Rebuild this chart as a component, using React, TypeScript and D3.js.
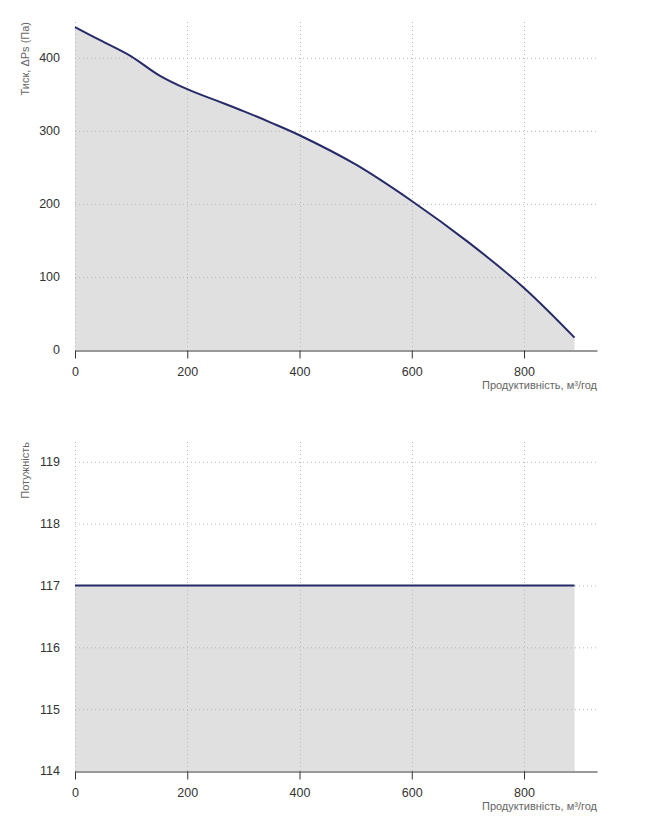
import { useEffect, useRef } from 'react';
import * as d3 from 'd3';

// Pressure curve (m³/год -> Па)
const flowPoints = [0, 50, 100, 150, 200, 250, 300, 350, 400, 500, 600, 700, 800, 890];
const pressureValues = [442, 422, 402, 376, 357, 342, 327, 311, 294, 254, 204, 148, 85, 17];

// Power curve
const powerFlow = [0, 890];
const powerValues = [117, 117];

const xTicks = [0, 200, 400, 600, 800];
const pressureTicks = [0, 100, 200, 300, 400];
const powerTicks = [114, 115, 116, 117, 118, 119];

const xTitle = 'Продуктивність, м³/год';
const pressureTitle = 'Тиск, ΔPs (Па)';
const powerTitle = 'Потужність';

const LINE = '#272a69';
const FILL = '#e0e0e0';
const FONT = 'Arial, "Liberation Sans", sans-serif';

interface PanelOpts {
  top: number;
  bottom: number;
  xs: number[];
  ys: number[];
  yDomain: [number, number];
  yTicks: number[];
  yTitle: string;
}

function drawPanel(root: d3.Selection<SVGSVGElement, unknown, null, undefined>, o: PanelOpts) {
  const left = 75;
  const right = 597;
  const x = d3.scaleLinear().domain([0, 930]).range([left, right]);
  const y = d3.scaleLinear().domain(o.yDomain).range([o.bottom, o.top]);
  const data = o.xs.map((v, i) => ({ x: v, y: o.ys[i] }));
  const curve = d3.curveCatmullRom.alpha(0.5);

  const g = root.append('g');

  // area
  const area = d3
    .area<{ x: number; y: number }>()
    .x(d => x(d.x))
    .y0(o.bottom)
    .y1(d => y(d.y))
    .curve(curve);
  g.append('path').datum(data).attr('d', area).attr('fill', FILL);

  // grid
  g.selectAll('.hgrid')
    .data(o.yTicks.filter(t => t !== o.yDomain[0]))
    .enter()
    .append('line')
    .attr('x1', left)
    .attr('x2', right)
    .attr('y1', d => y(d) + 0.5)
    .attr('y2', d => y(d) + 0.5)
    .attr('stroke', '#b8b8b8')
    .attr('stroke-dasharray', '1,3');
  g.selectAll('.vgrid')
    .data(xTicks)
    .enter()
    .append('line')
    .attr('x1', d => Math.round(x(d)) + 0.5)
    .attr('x2', d => Math.round(x(d)) + 0.5)
    .attr('y1', o.top)
    .attr('y2', o.bottom)
    .attr('stroke', '#b8b8b8')
    .attr('stroke-dasharray', '1,3');

  // line
  const line = d3
    .line<{ x: number; y: number }>()
    .x(d => x(d.x))
    .y(d => y(d.y))
    .curve(curve);
  g.append('path')
    .datum(data)
    .attr('d', line)
    .attr('fill', 'none')
    .attr('stroke', LINE)
    .attr('stroke-width', 2);

  // x axis
  const xAxis = g
    .append('g')
    .attr('transform', `translate(0,${o.bottom + 0.5})`)
    .call(d3.axisBottom(x).tickValues(xTicks).tickSize(8).tickSizeOuter(0).tickPadding(9));
  xAxis.select('.domain').attr('stroke', '#333');
  xAxis.selectAll('.tick line').attr('stroke', '#333');
  xAxis.selectAll('text').attr('fill', '#333').style('font-size', '12.5px').style('font-family', FONT);

  // y labels
  g.selectAll('.ylab')
    .data(o.yTicks)
    .enter()
    .append('text')
    .attr('x', 60)
    .attr('y', d => y(d))
    .attr('dy', '0.35em')
    .attr('text-anchor', 'end')
    .attr('fill', '#333')
    .style('font-size', '12.5px')
    .style('font-family', FONT)
    .text(d => d);

  // titles
  g.append('text')
    .attr('x', right)
    .attr('y', o.bottom + 39)
    .attr('text-anchor', 'end')
    .attr('fill', '#666')
    .style('font-size', '11px')
    .style('font-family', FONT)
    .text(xTitle);
  g.append('text')
    .attr('transform', `translate(29,${o.top}) rotate(-90)`)
    .attr('text-anchor', 'end')
    .attr('fill', '#666')
    .style('font-size', '11px')
    .style('font-family', FONT)
    .text(o.yTitle);
}

export default function App() {
  const svgRef = useRef<SVGSVGElement>(null);

  useEffect(() => {
    if (!svgRef.current) return;
    const svg = d3.select(svgRef.current);
    svg.selectAll('*').remove();

    drawPanel(svg, {
      top: 22,
      bottom: 350,
      xs: flowPoints,
      ys: pressureValues,
      yDomain: [0, 449],
      yTicks: pressureTicks,
      yTitle: pressureTitle,
    });
    drawPanel(svg, {
      top: 442,
      bottom: 771,
      xs: powerFlow,
      ys: powerValues,
      yDomain: [114, 119.32],
      yTicks: powerTicks,
      yTitle: powerTitle,
    });
  }, []);

  return (
    <svg
      ref={svgRef}
      width={647}
      height={833}
      style={{ position: 'absolute', left: 0, top: 0, background: '#fff' }}
    />
  );
}
